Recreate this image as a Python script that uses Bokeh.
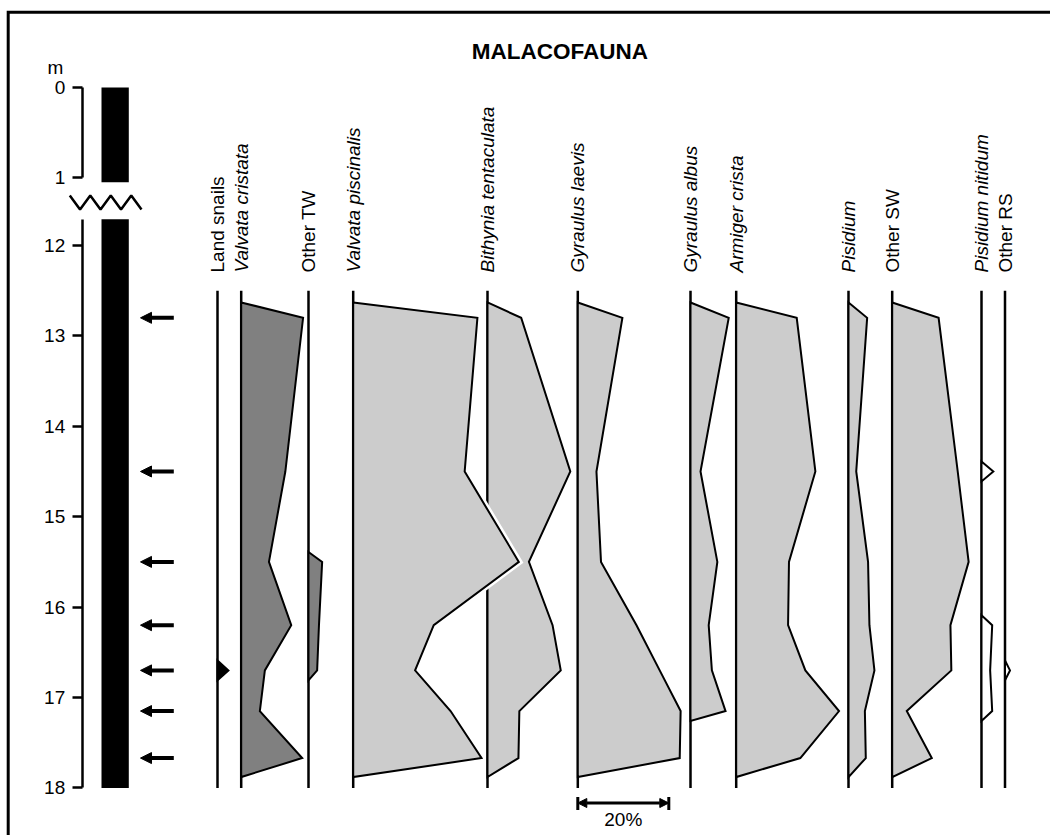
import numpy as np
from bokeh.plotting import figure
from bokeh.models import (Range1d, LinearAxis, FixedTicker, Arrow,
                          NormalHead, ColumnDataSource)
from bokeh.core.properties import value
from bokeh.embed import file_html
from bokeh.resources import INLINE

# ------------------------------------------------------------------ data
title = "MALACOFAUNA"
sample_depths = [12.8, 14.5, 15.5, 16.2, 16.7, 17.15, 17.67]   # m (arrows)
taxa = ["Land snails", "Valvata cristata", "Other TW", "Valvata piscinalis",
        "Bithynia tentaculata", "Gyraulus laevis", "Gyraulus albus",
        "Armiger crista", "Pisidium", "Other SW", "Pisidium nitidum", "Other RS"]
italic = [False, True, False, True, True, True, True, True, True, False, True, False]

land_snails          = [0, 0, 0, 0, 2.4, 0, 0]
valvata_cristata     = [13.6, 9.7, 6.1, 11.0, 5.2, 4.1, 13.4]
other_tw             = [0, 0, 3.0, 2.3, 1.9, 0, 0]
valvata_piscinalis   = [27.3, 24.5, 36.4, 17.7, 13.6, 21.4, 28.2]
bithynia_tentaculata = [7.4, 18.2, 9.1, 14.3, 16.1, 7.0, 6.8]
gyraulus_laevis      = [9.8, 4.1, 5.1, 12.9, 18.0, 22.6, 22.4]
gyraulus_albus       = [8.4, 2.2, 5.9, 4.0, 4.7, 7.7, 0]
armiger_crista       = [13.3, 17.4, 11.6, 11.4, 15.2, 22.6, 14.1]
pisidium             = [4.1, 1.7, 4.3, 4.6, 5.7, 3.6, 3.8]
other_sw             = [10.2, 14.4, 16.8, 12.8, 13.0, 3.2, 8.7]
pisidium_nitidum     = [0, 2.6, 0, 2.35, 1.9, 2.35, 0]
other_rs             = [0, 0, 0, 0, 1.1, 0, 0]

series = [land_snails, valvata_cristata, other_tw, valvata_piscinalis,
          bithynia_tentaculata, gyraulus_laevis, gyraulus_albus, armiger_crista,
          pisidium, other_sw, pisidium_nitidum, other_rs]

depth_ticks_upper = [0, 1]
depth_ticks_lower = [12, 13, 14, 15, 16, 17, 18]
core_upper = (0.0, 1.05)      # m, drawn above the break
core_lower = (11.71, 18.0)    # m, drawn below the break
profile_top, profile_bottom = 12.63, 17.88
column_top, column_bottom = 12.5, 18.0
scale_pct = 20

# ------------------------------------------------------------------ layout
W, H = 1050, 835
PX_PCT = 4.55          # px per percent
PX_M = 90.4            # px per metre


def px_x(px):          # page px -> x data (percent units)
    return px / PX_PCT


def px_d(py):          # page px -> depth (lower section)
    return 12 + (py - 245) / PX_M


U_OFF = px_d(86.9)     # where 0 m of the upper section sits
column_px = [217, 240.7, 308, 352.7, 487, 577.3, 690, 735.7, 848, 891.7, 981, 1004.5]
offsets = [px_x(c) for c in column_px]
fills = ["black", "#808080", "#808080", "#cccccc", "#cccccc", "#cccccc", "#cccccc",
         "#cccccc", "#cccccc", "#cccccc", "white", "white"]
GAP = 0.11
FONT = value("Liberation Sans")

p = figure(width=W, height=H, output_backend="svg", toolbar_location=None,
           x_range=Range1d(0, W / PX_PCT),
           y_range=Range1d(px_d(H), px_d(0)),
           min_border=0, outline_line_color=None)
p.extra_y_ranges = {"upper": Range1d(px_d(H) - U_OFF, px_d(0) - U_OFF)}
p.xaxis.visible = False
p.grid.visible = False
p.background_fill_color = "white"
p.border_fill_color = "white"

# frame border (left and top edges)
p.line([px_x(7.7), px_x(7.7), px_x(W + 5)], [px_d(H + 5), px_d(11.7), px_d(11.7)],
       line_color="black", line_width=3, line_join="miter")

# depth axes (broken)
axis_x = px_x(81.7)


def style_axis(ax):
    ax.fixed_location = axis_x
    ax.axis_line_width = 2.5
    ax.axis_line_color = "black"
    ax.major_tick_line_width = 2.5
    ax.major_tick_out = 10
    ax.major_tick_in = 0
    ax.minor_tick_line_color = None
    ax.major_label_standoff = 7
    ax.major_label_text_font = "Liberation Sans"
    ax.major_label_text_font_size = "19px"
    ax.major_label_text_color = "black"


ax_low = p.yaxis[0]
ax_low.ticker = FixedTicker(ticks=depth_ticks_lower)
ax_low.bounds = (core_lower[0], depth_ticks_lower[-1])
style_axis(ax_low)

ax_up = LinearAxis(y_range_name="upper", ticker=FixedTicker(ticks=depth_ticks_upper),
                   bounds=(depth_ticks_upper[0], depth_ticks_upper[-1]))
style_axis(ax_up)
p.add_layout(ax_up, "left")

p.text(x=[px_x(55)], y=[px_d(67) - U_OFF], text=["m"], y_range_name="upper",
       text_font=FONT, text_font_size="19px", text_align="center",
       text_baseline="middle", text_color="black")

# core column
bar_l, bar_r = px_x(101), px_x(128.3)
p.quad(left=[bar_l], right=[bar_r], top=[core_upper[0]], bottom=[core_upper[1]],
       y_range_name="upper", fill_color="black", line_color=None)
p.quad(left=[bar_l], right=[bar_r], top=[core_lower[0]], bottom=[core_lower[1]],
       fill_color="black", line_color=None)

# break symbol
zz_x = np.linspace(px_x(69.3), px_x(141), 8)
zz_y = [px_d(195) - U_OFF if i % 2 == 0 else px_d(209) - U_OFF for i in range(8)]
p.line(zz_x, zz_y, y_range_name="upper", line_color="black", line_width=2.5)

# sample arrows
arr_src = ColumnDataSource(dict(x0=[px_x(173.3)] * len(sample_depths),
                                x1=[px_x(140)] * len(sample_depths),
                                y=sample_depths))
p.add_layout(Arrow(end=NormalHead(size=11, fill_color="black", line_color="black"),
                   x_start="x0", y_start="y", x_end="x1", y_end="y",
                   source=arr_src, line_width=4, line_color="black"))

# column baselines
p.segment(x0=offsets, x1=offsets, y0=[column_top] * len(offsets),
          y1=[column_bottom] * len(offsets), line_color="black", line_width=2.5)


def profile(vals):
    polys = []
    cur = None
    for i, v in enumerate(vals):
        if v > 0:
            if cur is None:
                start = profile_top if i == 0 else sample_depths[i] - GAP
                cur = [(0.0, start)]
            cur.append((v, sample_depths[i]))
        elif cur is not None:
            cur.append((0.0, sample_depths[i - 1] + GAP))
            polys.append(cur)
            cur = None
    if cur is not None:
        cur.append((0.0, profile_bottom))
        polys.append(cur)
    return polys


VP = taxa.index("Valvata piscinalis")
xs, ys, fc = [], [], []
vp_xs, vp_ys = [], []
for k, vals in enumerate(series):
    for poly in profile(vals):
        px = [offsets[k] + v for v, d in poly]
        py = [d for v, d in poly]
        if k == VP:
            vp_xs.append(px); vp_ys.append(py)
        else:
            xs.append(px); ys.append(py); fc.append(fills[k])

p.patches(xs="xs", ys="ys", fill_color="fc", source=ColumnDataSource(dict(xs=xs, ys=ys, fc=fc)),
          line_color="black", line_width=2, line_join="miter")
# white halo where Valvata piscinalis overlaps its neighbour
p.line([offsets[VP] + v for v in valvata_piscinalis], sample_depths,
       line_color="white", line_width=7, line_join="miter")
p.patches(xs=vp_xs, ys=vp_ys, fill_color=fills[VP], line_color="black",
          line_width=2, line_join="miter")

# column headers
for k, name in enumerate(taxa):
    p.text(x=[offsets[k]], y=[px_d(272)], text=[name], angle=np.pi / 2,
           text_font=FONT, text_font_size="19px",
           text_font_style="italic" if italic[k] else "normal",
           text_align="left", text_baseline="middle", text_color="black")

# title
p.text(x=[px_x(559.3)], y=[px_d(50.5)], text=[title], text_font=FONT,
       text_font_size="22.5px", text_font_style="bold", text_align="center",
       text_baseline="middle", text_color="black")

# scale bar (20 %)
gl = offsets[taxa.index("Gyraulus laevis")]
sb_y = px_d(802.5)
p.add_layout(Arrow(start=NormalHead(size=9, fill_color="black", line_color="black"),
                   end=NormalHead(size=9, fill_color="black", line_color="black"),
                   x_start=gl, y_start=sb_y, x_end=gl + scale_pct, y_end=sb_y,
                   line_width=3, line_color="black"))
p.segment(x0=[gl, gl + scale_pct], x1=[gl, gl + scale_pct],
          y0=[px_d(796.5)] * 2, y1=[px_d(809.5)] * 2, line_color="black", line_width=3)
p.text(x=[gl + scale_pct / 2], y=[px_d(818.5)], text=[f"{scale_pct}%"], text_font=FONT,
       text_font_size="19px", text_align="center", text_baseline="middle",
       text_color="black")

open("out.html", "w").write(file_html(p, INLINE))
